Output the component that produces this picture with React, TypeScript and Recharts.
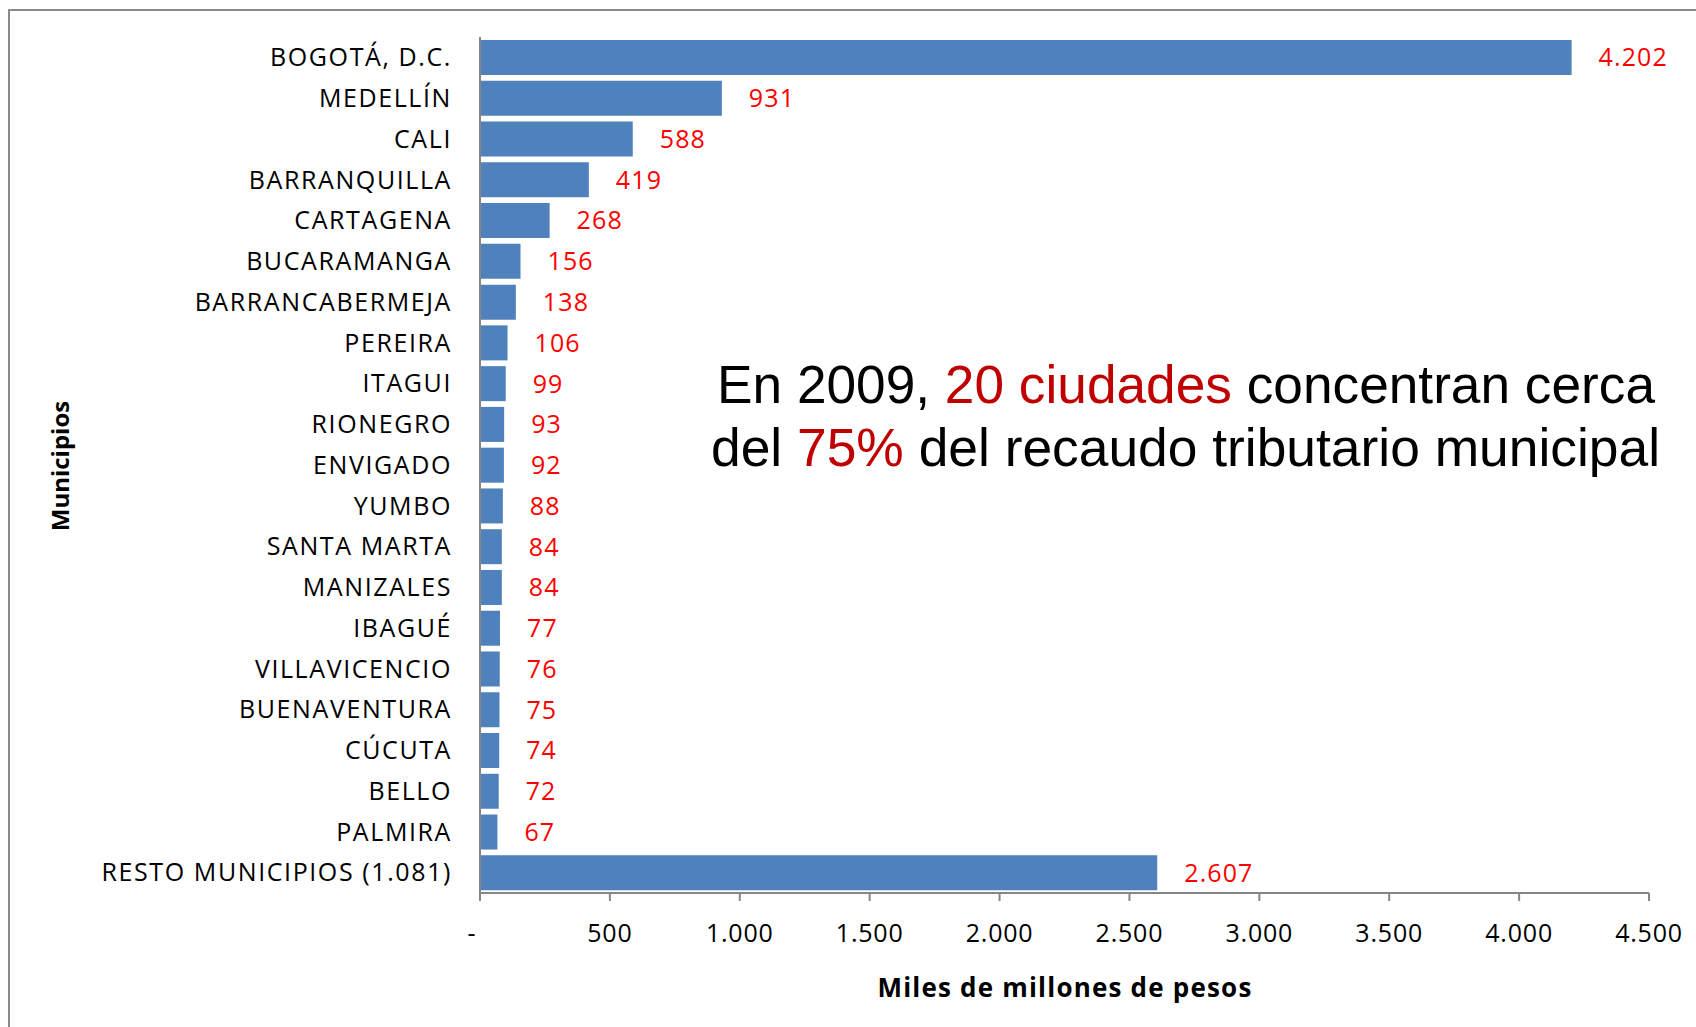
import React from 'react';
import { BarChart, Bar, XAxis, YAxis, LabelList } from 'recharts';

const categories = [
  'BOGOTÁ, D.C.', 'MEDELLÍN', 'CALI', 'BARRANQUILLA', 'CARTAGENA', 'BUCARAMANGA',
  'BARRANCABERMEJA', 'PEREIRA', 'ITAGUI', 'RIONEGRO', 'ENVIGADO', 'YUMBO',
  'SANTA MARTA', 'MANIZALES', 'IBAGUÉ', 'VILLAVICENCIO', 'BUENAVENTURA', 'CÚCUTA',
  'BELLO', 'PALMIRA', 'RESTO MUNICIPIOS (1.081)',
];
const values = [4202, 931, 588, 419, 268, 156, 138, 106, 99, 93, 92, 88, 84, 84, 77, 76, 75, 74, 72, 67, 2607];
const xTicks = [0, 500, 1000, 1500, 2000, 2500, 3000, 3500, 4000, 4500];

const data = categories.map((name, i) => ({ name, value: values[i] }));

const fmt = (v: number) => (v === 0 ? '-' : String(v).replace(/\B(?=(\d{3})+(?!\d))/g, '.'));

const FONT = '"Open Sans", sans-serif';

const XTick = (props: any) => {
  const { x, y, payload } = props;
  const v = Number(payload.value);
  return (
    <text
      x={v === 0 ? x - 8 : x}
      y={y}
      dy="0.71em"
      textAnchor="middle"
      fill="#000"
      fontSize={25}
      fontFamily={FONT}
      letterSpacing={0.8}
    >
      {fmt(v)}
    </text>
  );
};

export default function App() {
  return (
    <div style={{ position: 'absolute', left: 0, top: 0, width: 1696, height: 1027, background: '#fff', overflow: 'hidden' }}>
      <div style={{ position: 'absolute', left: 8, top: 9, width: 1800, height: 1100, borderLeft: '2px solid #8a8a8a', borderTop: '2px solid #8a8a8a' }} />
      <BarChart
        width={1696}
        height={1027}
        data={data}
        layout="vertical"
        margin={{ top: 37, right: 47, bottom: 74, left: 0 }}
        barCategoryGap="7.5%"
        style={{ position: 'absolute', left: 0, top: 0, fontFamily: FONT }}
      >
        <XAxis
          type="number"
          domain={[0, 4500]}
          ticks={xTicks}
          height={60}
          axisLine={{ stroke: '#868686', strokeWidth: 2 }}
          tickLine={{ stroke: '#868686', strokeWidth: 2 }}
          tickSize={8}
          tickMargin={23}
          tick={<XTick />}
          interval={0}
        />
        <YAxis
          type="category"
          dataKey="name"
          width={480}
          axisLine={{ stroke: '#868686', strokeWidth: 2 }}
          tickLine={false}
          tickSize={0}
          tickMargin={28}
          tick={{ fill: '#000', fontSize: 25, fontFamily: FONT, letterSpacing: 1.6 }}
          interval={0}
        />
        <Bar dataKey="value" fill="#4F81BD" isAnimationActive={false}>
          <LabelList
            dataKey="value"
            position="right"
            offset={27}
            formatter={(v: any) => fmt(Number(v))}
            fill="#FF0000"
            fontSize={25}
            fontFamily={FONT}
            letterSpacing={1.1}
          />
        </Bar>
      </BarChart>
      <svg width={1696} height={1027} style={{ position: 'absolute', left: 0, top: 0, pointerEvents: 'none' }}>
        <text
          x={59}
          y={466}
          transform="rotate(-90 59 466)"
          textAnchor="middle"
          dominantBaseline="central"
          fontFamily={FONT}
          fontWeight="bold"
          fontSize={24}
          fill="#000"
        >
          Municipios
        </text>
        <text
          x={1065}
          y={987}
          textAnchor="middle"
          dominantBaseline="central"
          fontFamily={FONT}
          fontWeight="bold"
          fontSize={26}
          letterSpacing={1.2}
          fill="#000"
        >
          Miles de millones de pesos
        </text>
        <text x={717} y={403} textLength={938} lengthAdjust="spacingAndGlyphs" fontFamily='"Liberation Sans", Arial, sans-serif' fontSize={54} fill="#000">
          En 2009, <tspan fill="#C00000">20 ciudades</tspan> concentran cerca
        </text>
        <text x={711} y={466} textLength={949} lengthAdjust="spacingAndGlyphs" fontFamily='"Liberation Sans", Arial, sans-serif' fontSize={54} fill="#000">
          del <tspan fill="#C00000">75%</tspan> del recaudo tributario municipal
        </text>
      </svg>
    </div>
  );
}
